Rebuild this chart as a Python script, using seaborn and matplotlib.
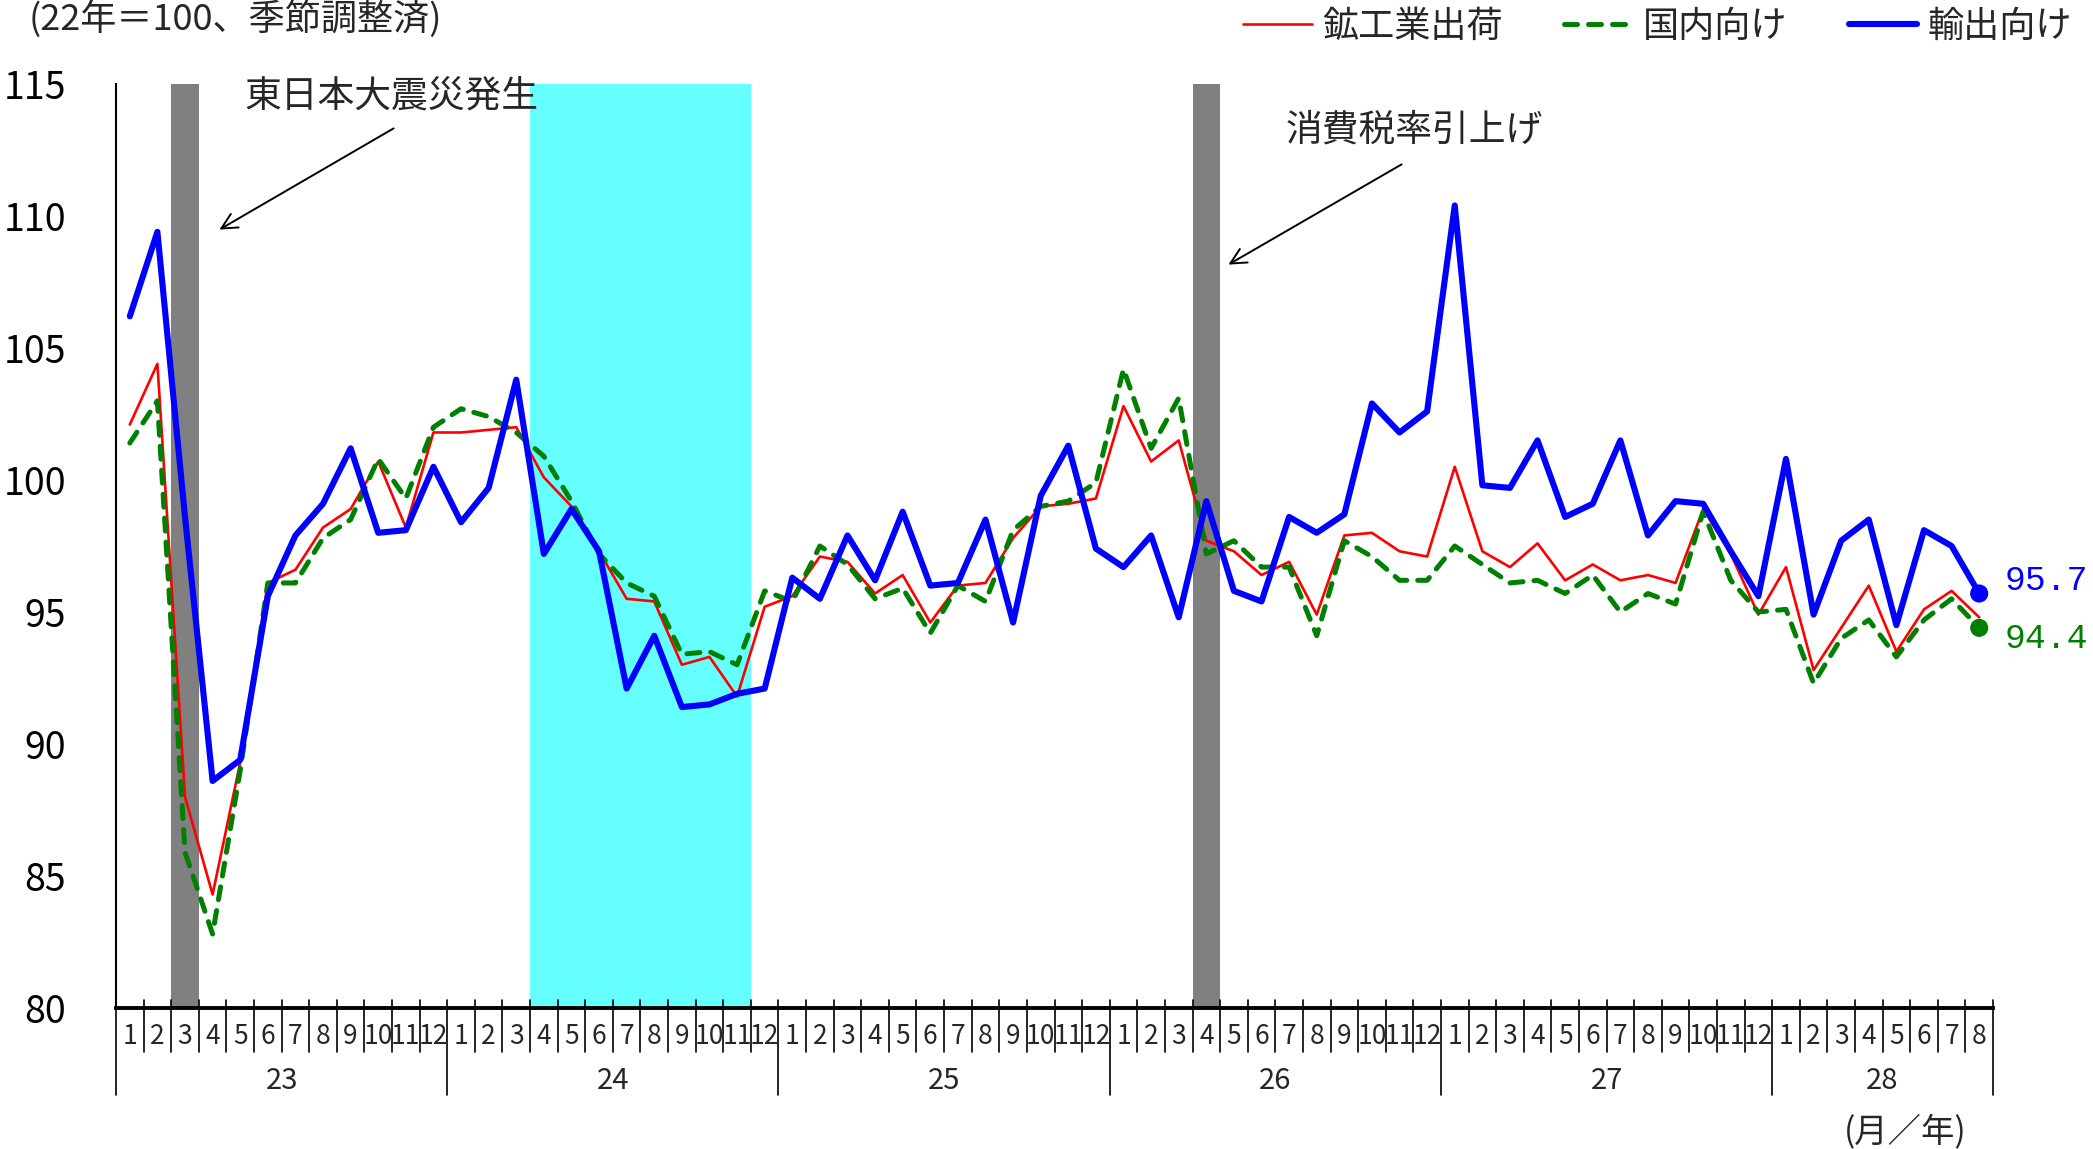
import numpy as np
import pandas as pd
import matplotlib
matplotlib.use("Agg")
import matplotlib.pyplot as plt
import matplotlib.transforms as mtransforms
import seaborn as sns

# ---- data (平成23年1月 〜 平成28年8月, 22年=100, 季節調整済) ----
years = ["23", "24", "25", "26", "27", "28"]
months_in_year = [12, 12, 12, 12, 12, 8]

shipments = [  # 鉱工業出荷
    102.1, 104.4, 88.0, 84.3, 89.3, 96.1, 96.6, 98.2, 98.9, 100.7, 98.2, 101.8,
    101.8, 101.9, 102.0, 100.1, 99.0, 97.3, 95.5, 95.4, 93.0, 93.3, 91.8, 95.2,
    95.6, 97.1, 96.9, 95.7, 96.4, 94.6, 96.0, 96.1, 97.8, 99.0, 99.1, 99.3,
    102.8, 100.7, 101.5, 97.7, 97.3, 96.4, 96.9, 94.9, 97.9, 98.0, 97.3, 97.1,
    100.5, 97.3, 96.7, 97.6, 96.2, 96.8, 96.2, 96.4, 96.1, 98.9, 97.2, 94.9,
    96.7, 92.8, 94.4, 96.0, 93.5, 95.1, 95.8, 94.8,
]
domestic = [  # 国内向け
    101.4, 103.0, 85.9, 82.8, 89.0, 96.1, 96.1, 97.8, 98.5, 100.8, 99.3, 102.0,
    102.7, 102.4, 101.8, 100.9, 99.2, 97.2, 96.1, 95.6, 93.4, 93.5, 93.0, 95.8,
    95.4, 97.5, 96.8, 95.5, 95.9, 94.2, 96.0, 95.4, 98.1, 99.0, 99.2, 99.9,
    104.2, 101.2, 103.1, 97.2, 97.7, 96.7, 96.7, 94.1, 97.7, 97.1, 96.2, 96.2,
    97.5, 96.8, 96.1, 96.2, 95.7, 96.4, 95.0, 95.7, 95.3, 98.8, 96.2, 95.0,
    95.1, 92.3, 94.0, 94.7, 93.3, 94.7, 95.5, 94.4,
]
exports = [  # 輸出向け
    106.2, 109.4, 98.6, 88.6, 89.4, 95.6, 97.9, 99.1, 101.2, 98.0, 98.1, 100.5,
    98.4, 99.7, 103.8, 97.2, 98.9, 97.3, 92.1, 94.1, 91.4, 91.5, 91.9, 92.1,
    96.3, 95.5, 97.9, 96.2, 98.8, 96.0, 96.1, 98.5, 94.6, 99.4, 101.3, 97.4,
    96.7, 97.9, 94.8, 99.2, 95.8, 95.4, 98.6, 98.0, 98.7, 102.9, 101.8, 102.6,
    110.4, 99.8, 99.7, 101.5, 98.6, 99.1, 101.5, 97.9, 99.2, 99.1, 97.3, 95.6,
    100.8, 94.9, 97.7, 98.5, 94.5, 98.1, 97.5, 95.7,
]

quake_month = 2          # 23年3月
tax_hike_month = 39      # 26年4月
recession = (15, 22)     # 24年4月〜24年11月

month_labels = [str(m) for n in months_in_year for m in range(1, n + 1)]
idx = np.arange(len(month_labels))

df = pd.DataFrame({
    "idx": idx,
    "鉱工業出荷": shipments,
    "国内向け": domestic,
    "輸出向け": exports,
})

# ---- style ----
sns.set_style("white")
plt.rcParams["font.family"] = ["Noto Sans CJK JP", "DejaVu Sans"]
narrow = ["Liberation Sans Narrow", "Noto Sans CJK JP", "DejaVu Sans"]
mono = ["Liberation Mono", "DejaVu Sans Mono"]

W, H = 2093, 1149
fig = plt.figure(figsize=(W / 100, H / 100), dpi=100)


def fx(px):
    return px / W


def fy(py):
    return 1 - py / H


ax = fig.add_axes([fx(116), fy(1008), (1993 - 116) / W, (1008 - 84) / H])
ax.set_xlim(-0.5, len(idx) - 0.5)
ax.set_ylim(80, 115)

# shaded periods
ax.axvspan(recession[0] - 0.5, recession[1] + 0.5, color="#66FFFF", lw=0, zorder=0)
for m in (quake_month, tax_hike_month):
    ax.axvspan(m - 0.5, m + 0.5, color="#808080", lw=0, zorder=0.5)

# series
sns.lineplot(data=df, x="idx", y="鉱工業出荷", ax=ax, color="#FF0000", lw=1.9,
             label="鉱工業出荷", errorbar=None, zorder=3)
sns.lineplot(data=df, x="idx", y="国内向け", ax=ax, color="#008000", lw=3.6,
             linestyle=(0, (2.6, 2.2)), dash_capstyle="round",
             label="国内向け", errorbar=None, zorder=4)
sns.lineplot(data=df, x="idx", y="輸出向け", ax=ax, color="#0000FF", lw=4.4,
             label="輸出向け", errorbar=None, zorder=5)

# end markers and value labels
sns.scatterplot(x=[idx[-1]], y=[exports[-1]], ax=ax, color="#0000FF", s=170,
                edgecolor="none", zorder=6, legend=False)
sns.scatterplot(x=[idx[-1]], y=[domestic[-1]], ax=ax, color="#008000", s=170,
                edgecolor="none", zorder=6, legend=False)
ax.annotate(f"{exports[-1]:.1f}", xy=(idx[-1], exports[-1]), xytext=(18.0, 9.5),
            textcoords="offset points", ha="left", va="center",
            color="#0000FF", fontsize=25, family=mono, annotation_clip=False)
ax.annotate(f"{domestic[-1]:.1f}", xy=(idx[-1], domestic[-1]), xytext=(18.0, -7.5),
            textcoords="offset points", ha="left", va="center",
            color="#008000", fontsize=25, family=mono, annotation_clip=False)

# axes
for s in ("top", "right"):
    ax.spines[s].set_visible(False)
ax.spines["left"].set_linewidth(1.5)
ax.spines["left"].set_color("black")
ax.spines["bottom"].set_linewidth(2.8)
ax.spines["bottom"].set_color("black")
ax.set_xlabel("")
ax.set_ylabel("")

ax.set_yticks(np.arange(80, 116, 5))
ax.tick_params(axis="y", direction="in", length=7, width=1.3, pad=36,
               labelsize=27, colors="black")
for lbl in ax.get_yticklabels():
    lbl.set_fontfamily(narrow)
ax.set_xticks([])
ax.tick_params(axis="x", length=0)
if ax.get_legend() is not None:
    ax.get_legend().remove()

# month / year axis
trans = mtransforms.blended_transform_factory(ax.transData, ax.transAxes)
ax_h = 1008 - 84
top_y = 8 / ax_h
month_bot = -(1052 - 1008) / ax_h
year_bot = -(1095 - 1008) / ax_h
month_lbl_y = -(1036 - 1008) / ax_h
year_lbl_y = -(1081 - 1008) / ax_h

year_starts = np.concatenate([[0], np.cumsum(months_in_year)])
for b in range(len(idx) + 1):
    bottom = year_bot if b in year_starts else month_bot
    ax.plot([b - 0.5, b - 0.5], [top_y, bottom], transform=trans, color="black",
            lw=1.2, clip_on=False, zorder=7)
for i, lbl in zip(idx, month_labels):
    ax.text(i, month_lbl_y, lbl, transform=trans, ha="center", va="center",
            fontsize=19, family=narrow)
for k, yr in enumerate(years):
    center = (year_starts[k] + year_starts[k + 1] - 1) / 2
    ax.text(center, year_lbl_y, yr, transform=trans, ha="center", va="center",
            fontsize=21, family=narrow)

fig.text(fx(1905), fy(1132), "(月／年)", ha="center", va="center",
         fontsize=24, family=narrow)

# title note
fig.text(fx(29), fy(19), "(22年＝100、季節調整済)", ha="left", va="center",
         fontsize=26, family=narrow)

# legend
handles = ax.lines[:3]
fig.legend(handles, ["鉱工業出荷", "国内向け", "輸出向け"], loc="center right",
           bbox_to_anchor=(fx(2072), fy(27)), bbox_transform=fig.transFigure,
           ncol=3, frameon=False, fontsize=26, handlelength=1.9,
           handletextpad=0.28, columnspacing=1.7, borderpad=0, borderaxespad=0)

# event notes
fig.text(fx(244), fy(96), "東日本大震災発生", ha="left", va="center", fontsize=26.5)
fig.text(fx(1286), fy(130), "消費税率引上げ", ha="left", va="center", fontsize=26.5)
arrow = dict(arrowstyle="->", lw=1.4, color="black", mutation_scale=28)
fig.add_artist(matplotlib.patches.FancyArrowPatch(
    (fx(396), fy(127)), (fx(217), fy(231)), transform=fig.transFigure, **arrow))
fig.add_artist(matplotlib.patches.FancyArrowPatch(
    (fx(1404), fy(163)), (fx(1226), fy(266)), transform=fig.transFigure, **arrow))

fig.savefig("out.png", dpi=100, facecolor="white")
